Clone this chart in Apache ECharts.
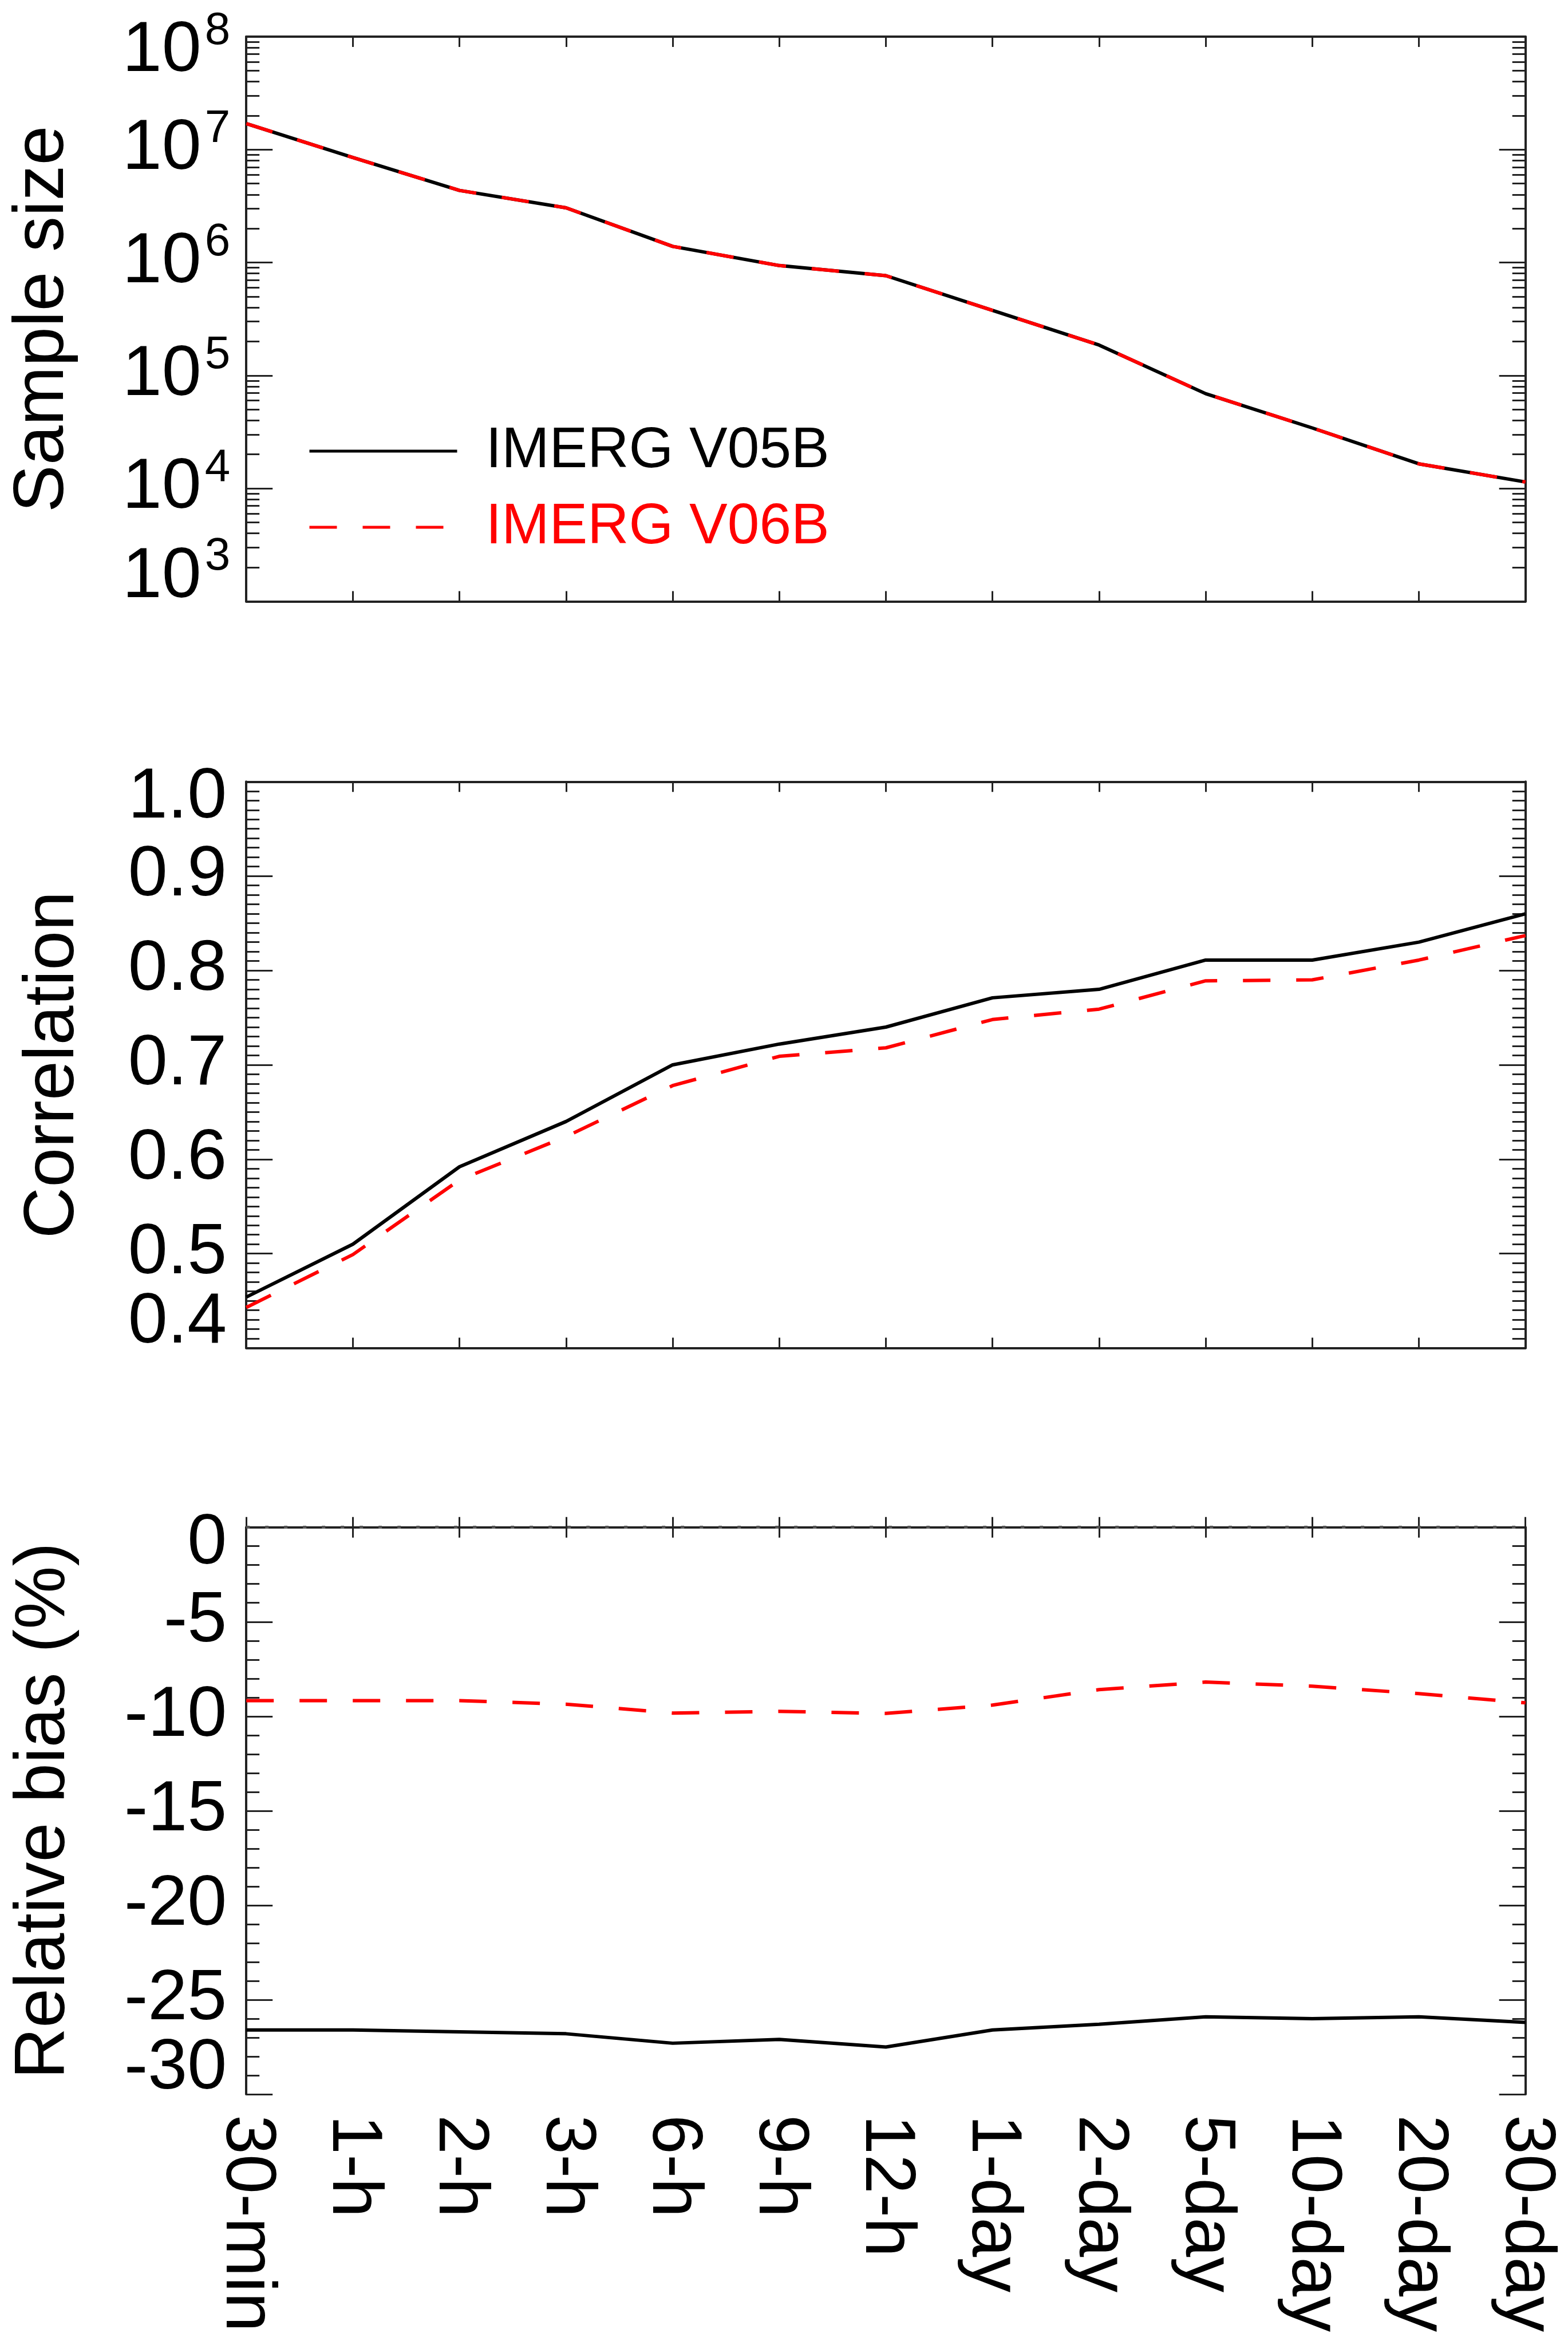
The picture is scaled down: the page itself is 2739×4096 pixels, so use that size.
<!DOCTYPE html>
<html><head><meta charset="utf-8">
<script src="https://cdn.jsdelivr.net/npm/echarts@6/dist/echarts.min.js"></script>
<style>html,body{margin:0;padding:0;background:#fff}#c{width:2739px;height:4096px}</style>
</head><body><div id="c"></div>
<script>
// ---------------- data ----------------
const categories = ['30-min','1-h','2-h','3-h','6-h','9-h','12-h','1-day','2-day','5-day','10-day','20-day','30-day'];
const seriesNames = ['IMERG V05B','IMERG V06B'];

const sampleV05B = [1.70e7, 8.5e6, 4.35e6, 3.05e6, 1.39e6, 9.4e5, 7.65e5, 3.77e5, 1.86e5, 6.9e4, 3.43e4, 1.65e4, 1.14e4];
const sampleV06B = [1.70e7, 8.5e6, 4.35e6, 3.05e6, 1.39e6, 9.4e5, 7.65e5, 3.77e5, 1.86e5, 6.9e4, 3.43e4, 1.65e4, 1.14e4];

const corrV05B = [0.454, 0.510, 0.592, 0.640, 0.700, 0.722, 0.740, 0.771, 0.780, 0.811, 0.811, 0.830, 0.860];
const corrV06B = [0.443, 0.499, 0.578, 0.624, 0.678, 0.709, 0.718, 0.748, 0.759, 0.789, 0.790, 0.811, 0.837];

const biasV05B = [-26.6, -26.6, -26.7, -26.8, -27.3, -27.1, -27.5, -26.6, -26.3, -25.9, -26.0, -25.9, -26.2];
const biasV06B = [-9.17, -9.17, -9.17, -9.36, -9.83, -9.74, -9.85, -9.41, -8.59, -8.19, -8.41, -8.80, -9.29];

const sampleTickValues = [1e3, 1e4, 1e5, 1e6, 1e7, 1e8];
const corrTickValues = [0.4, 0.5, 0.6, 0.7, 0.8, 0.9, 1.0];
const biasTickValues = [-30, -25, -20, -15, -10, -5, 0];
const axisTitles = ['Sample size', 'Correlation', 'Relative bias (%)'];

// ---------------- layout ----------------
const FONT = '"Liberation Sans", Arial, Helvetica, sans-serif';
const AX = '#222';
const GL = 430.2, GW = 2234.5;
const grids = [
  {left: GL, top: 64.0, width: GW, height: 986.4},
  {left: GL, top: 1365.3, width: GW, height: 989.3},
  {left: GL, top: 2667.7, width: GW, height: 990.3}
];
grids.forEach(g => { g.containLabel = false; g.outerBoundsMode = 'none'; });

const sampleMinorTicks = [];
for (let e = 3; e < 8; e++) for (let m = 2; m <= 9; m++) sampleMinorTicks.push(m * Math.pow(10, e));

const axisLine = {show: true, lineStyle: {color: AX, width: 4}};
const majorTick = {show: true, inside: true, length: 46, lineStyle: {color: AX, width: 3}};
const minorTickLen = 23;

// x axes: bottom + top for each panel
const xAxes = [];
for (let i = 0; i < 3; i++) {
  ['bottom', 'top'].forEach(pos => {
    const showLabels = (i === 2 && pos === 'bottom');
    xAxes.push({
      type: 'category', gridIndex: i, position: pos, data: categories, boundaryGap: false,
      axisLine: axisLine,
      axisTick: {show: true, inside: true, length: 18, interval: 0, lineStyle: {color: AX, width: 3}},
      axisLabel: showLabels ? {show: true, interval: 0, rotate: -90, margin: 36, fontSize: 124,
                               color: '#000', fontFamily: FONT, showMinLabel: true, showMaxLabel: true} : {show: false},
      splitLine: {show: false}
    });
  });
}

const yAxes = [];
// panel 1 (log)
const logFmt = function (v) {
  const e = Math.round(Math.log10(v));
  const t = '{b|10}{s|' + e + '}';
  if (e === 8) return '{g1| }\n' + t;
  if (e === 3) return t + '\n{k1| }';
  return t;
};
const logRich = {
  b: {fontSize: 124, lineHeight: 150, fontFamily: FONT, color: '#000'},
  s: {fontSize: 80, lineHeight: 70, verticalAlign: 'top', padding: [0, 0, 0, 6], fontFamily: FONT, color: '#000'},
  g1: {fontSize: 2, lineHeight: 52},
  k1: {fontSize: 2, lineHeight: 84}
};
['left', 'right'].forEach(pos => {
  yAxes.push({
    type: 'log', logBase: 10, gridIndex: 0, position: pos, min: 1e3, max: 1e8,
    axisLine: axisLine,
    axisTick: Object.assign({}, majorTick, {customValues: sampleTickValues}),
    axisLabel: pos === 'left' ? {show: true, customValues: sampleTickValues, margin: 28, formatter: logFmt, rich: logRich,
                                 showMinLabel: true, showMaxLabel: true} : {show: false},
    splitLine: {show: false},
    name: pos === 'left' ? axisTitles[0] : '',
    nameLocation: 'middle', nameRotate: 90, nameGap: 292,
    nameTextStyle: {fontSize: 124, color: '#000', fontFamily: FONT}
  });
  yAxes.push({
    type: 'log', logBase: 10, gridIndex: 0, position: pos, min: 1e3, max: 1e8,
    axisLine: {show: false},
    axisTick: {show: true, inside: true, length: minorTickLen, customValues: sampleMinorTicks, lineStyle: {color: AX, width: 3}},
    axisLabel: {show: false}, splitLine: {show: false}
  });
});

// panels 2 and 3 (linear)
const labelRich = {
  n: {fontSize: 124, lineHeight: 100, fontFamily: FONT, color: '#000'},
  g: {fontSize: 2, lineHeight: 58},
  k: {fontSize: 2, lineHeight: 88}
};
function linearAxes(gi, ticks, minorSplit, decimals, title, gap) {
  const mn = ticks[0], mx = ticks[ticks.length - 1], step = ticks[1] - ticks[0];
  const txt = v => '{n|' + (decimals ? v.toFixed(decimals) : String(Math.round(v))) + '}';
  const fmt = function (v) {
    const t = txt(v);
    if (Math.abs(v - mx) < 1e-6) return '{g| }\n' + t;
    if (Math.abs(v - mn) < 1e-6) return t + '\n{k| }';
    return t;
  };
  ['left', 'right'].forEach(pos => {
    yAxes.push({
      type: 'value', gridIndex: gi, position: pos, min: mn, max: mx, interval: step,
      axisLine: axisLine,
      axisTick: majorTick,
      minorTick: {show: true, splitNumber: minorSplit, length: minorTickLen, lineStyle: {color: AX, width: 3}},
      axisLabel: pos === 'left' ? {show: true, margin: 34, formatter: fmt, customValues: ticks.slice(1, -1),
        rich: labelRich} : {show: false},
      splitLine: {show: false}, minorSplitLine: {show: false},
      name: pos === 'left' ? title : '',
      nameLocation: 'middle', nameRotate: 90, nameGap: gap,
      nameTextStyle: {fontSize: 124, color: '#000', fontFamily: FONT}
    });
  });
  // overlay axis carrying the two end labels
  yAxes.push({
    type: 'value', gridIndex: gi, position: 'left', min: mn, max: mx, interval: step,
    axisLine: {show: false}, axisTick: {show: false}, splitLine: {show: false},
    axisLabel: {show: true, margin: 34, formatter: fmt, customValues: [mn, mx], showMinLabel: true, showMaxLabel: true,
      rich: labelRich}
  });
}
linearAxes(1, corrTickValues, 10, 1, axisTitles[1], 274);   // y axes 4,5,6
linearAxes(2, biasTickValues, 5, 0, axisTitles[2], 290);    // y axes 7,8,9

const solid = {color: '#000', width: 6, type: 'solid'};
const dashed = {color: '#ff0000', width: 6, type: [48, 45]};
function line(name, xi, yi, data, ls, extra) {
  return Object.assign({
    name: name, type: 'line', xAxisIndex: xi, yAxisIndex: yi, data: data,
    symbol: 'none', showSymbol: false, smooth: false, lineStyle: ls, itemStyle: {color: ls.color},
    animation: false, silent: true
  }, extra || {});
}

const series = [
  line(seriesNames[0], 0, 0, sampleV05B, solid),
  line(seriesNames[1], 0, 0, sampleV06B, dashed),
  line(seriesNames[0], 2, 4, corrV05B, solid),
  line(seriesNames[1], 2, 4, corrV06B, dashed),
  line(seriesNames[0], 4, 7, biasV05B, solid, {
    markLine: {silent: true, symbol: 'none', label: {show: false},
      lineStyle: {color: '#555', width: 5, type: [6, 27]}, data: [{yAxis: 0}]}
  }),
  line(seriesNames[1], 4, 7, biasV06B, dashed)
];

const chart = echarts.init(document.getElementById('c'), null, {renderer: 'canvas'});
chart.setOption({
  backgroundColor: '#fff',
  animation: false,
  textStyle: {fontFamily: FONT},
  grid: grids,
  xAxis: xAxes,
  yAxis: yAxes,
  legend: {
    show: true, orient: 'vertical', left: 533, top: 733,
    itemWidth: 258, itemHeight: 14, itemGap: 33,
    selectedMode: false,
    itemStyle: {opacity: 0},
    lineStyle: {width: 5},
    textStyle: {fontSize: 100, lineHeight: 100, fontFamily: FONT, padding: [0, 0, 0, 45]},
    data: [
      {name: seriesNames[0], textStyle: {color: '#000'}},
      {name: seriesNames[1], textStyle: {color: '#ff0000'}}
    ]
  },
  series: series
});
</script></body></html>
